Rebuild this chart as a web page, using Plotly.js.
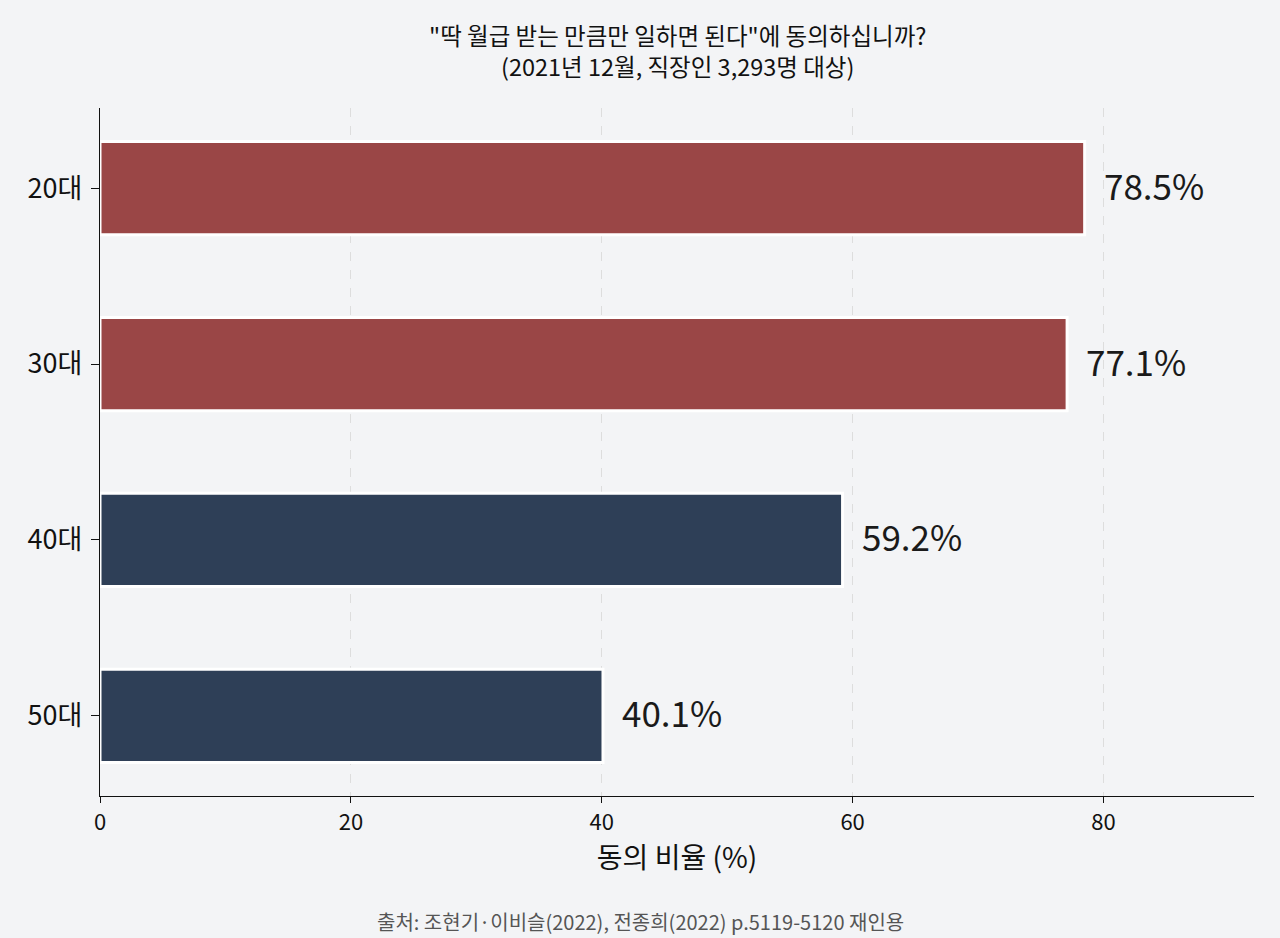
<!DOCTYPE html>
<html>
<head>
<meta charset="utf-8">
<script src="https://cdn.plot.ly/plotly-3.0.1.min.js"></script>
<style>
  html, body { margin: 0; padding: 0; background: #f3f4f6; }
  #chart { width: 1280px; height: 938px; }
</style>
</head>
<body>
<div id="chart"></div>
<script>
// 연령대별 동의 비율
const ageGroups = ["20대", "30대", "40대", "50대"];
const agreeRates = [78.5, 77.1, 59.2, 40.1];
const barColors = ["#9a4646", "#9a4646", "#2e3f57", "#2e3f57"];
const xTicks = [0, 20, 40, 60, 80];
const titleLines = [
  "\"딱 월급 받는 만큼만 일하면 된다\"에 동의하십니까?",
  "(2021년 12월, 직장인 3,293명 대상)"
];
const sourceText = "출처: 조현기·이비슬(2022), 전종희(2022) p.5119-5120 재인용";

const font = "Noto Sans CJK KR, Noto Sans, sans-serif";

const trace = {
  type: "bar",
  orientation: "h",
  y: ageGroups,
  x: agreeRates,
  width: 0.53,
  marker: {
    color: barColors,
    line: { color: "#ffffff", width: 3 }
  },
  hoverinfo: "none"
};

// 값 라벨
const annotations = agreeRates.map((v, i) => ({
  x: v,
  y: ageGroups[i],
  xref: "x",
  yref: "y",
  text: v.toFixed(1) + "%",
  showarrow: false,
  xanchor: "left",
  xshift: 17,
  yshift: 4,
  font: { family: font, size: 35, color: "#1a1a1a" }
}));

// 제목 (두 줄, 하나의 텍스트)
annotations.push({
  x: 0.5, y: 1, xref: "paper", yref: "paper",
  yanchor: "middle", yshift: 58,
  text: titleLines.join("<br>"),
  showarrow: false,
  font: { family: font, size: 23.5, color: "#111111" }
});

// 출처
annotations.push({
  x: 0.468, y: 0, xref: "paper", yref: "paper",
  yanchor: "middle", yshift: -125,
  text: sourceText,
  showarrow: false,
  font: { family: font, size: 20, color: "#555555" }
});

const layout = {
  width: 1280,
  height: 938,
  paper_bgcolor: "#f3f4f6",
  plot_bgcolor: "#f3f4f6",
  margin: { l: 100, r: 26, t: 108, b: 142 },
  showlegend: false,
  xaxis: {
    range: [0, 92],
    tickvals: xTicks,
    ticktext: xTicks.map(String),
    ticks: "outside",
    ticklen: 6,
    tickcolor: "#111111",
    tickfont: { family: font, size: 22, color: "#111111" },
    showline: true,
    linecolor: "#111111",
    linewidth: 1.2,
    showgrid: true,
    gridcolor: "#dddddd",
    griddash: "dash",
    gridwidth: 1.2,
    zeroline: false,
    title: {
      text: "동의 비율 (%)",
      font: { family: font, size: 28, color: "#111111" },
      standoff: 12
    }
  },
  yaxis: {
    type: "category",
    categoryorder: "array",
    categoryarray: ageGroups.slice().reverse(),
    range: [-0.455, 3.455],
    ticks: "outside",
    ticklen: 8,
    tickcolor: "#111111",
    ticklabelstandoff: 3,
    tickfont: { family: font, size: 27, color: "#111111" },
    showline: true,
    linecolor: "#111111",
    linewidth: 1.2,
    showgrid: false,
    zeroline: false
  },
  annotations: annotations
};

Plotly.newPlot("chart", [trace], layout, { displayModeBar: false, staticPlot: true });
</script>
</body>
</html>
